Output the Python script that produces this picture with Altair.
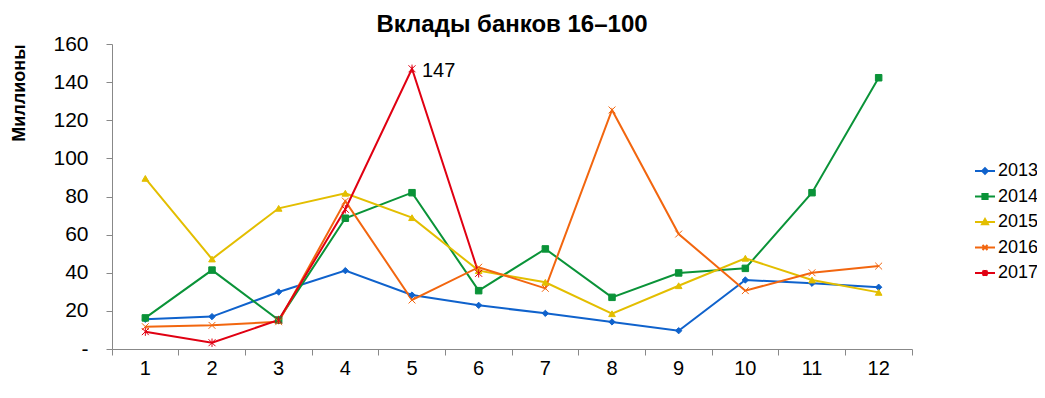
import altair as alt
import pandas as pd

months = list(range(1, 13))
series_names = ["2013", "2014", "2015", "2016", "2017"]
v2013 = [15.6, 17.0, 29.9, 41.1, 28.3, 22.9, 18.7, 14.2, 9.6, 36.2, 34.5, 32.4]
v2014 = [16.3, 41.4, 15.2, 68.6, 82.0, 30.6, 52.5, 27.1, 39.9, 42.3, 82.0, 142.3]
v2015 = [89.5, 47.2, 73.8, 81.7, 68.9, 41.1, 35.0, 18.5, 33.2, 47.6, 36.2, 29.7]
v2016 = [11.7, 12.4, 14.3, 77.6, 25.7, 42.9, 31.8, 125.4, 60.3, 30.6, 40.0, 43.5]
v2017 = [9.1, 3.3, 15.2, 73.3, 147.0, 39.7]
y_ticks = [0, 20, 40, 60, 80, 100, 120, 140, 160]

colors = ["#0F62CC", "#0A9338", "#E3BE00", "#F2660F", "#E00012"]
plot_shapes = [
    "diamond",
    "square",
    "triangle-up",
    "M-1,-1L1,1M-1,1L1,-1",
    "M-1,-1L1,1M-1,1L1,-1M0,-1.2L0,1.2",
]
plot_sizes = [40, 49, 70, 50, 50]
legend_shapes = [
    "M-1,0L1,0M-0.28,0L0,-0.28L0.28,0L0,0.28Z",
    "M-1,0L1,0M-0.26,-0.26L0.26,-0.26L0.26,0.26L-0.26,0.26Z",
    "M-1,0L1,0M0,-0.3L0.3,0.22L-0.3,0.22Z",
    "M-1,0L1,0M-0.25,-0.25L0.25,0.25M-0.25,0.25L0.25,-0.25",
    "M-1,0L1,0M-0.25,-0.25L0.25,0.25M-0.25,0.25L0.25,-0.25M0,-0.3L0,0.3",
]

rows = []
for name, vals in zip(series_names, [v2013, v2014, v2015, v2016, v2017]):
    for m, v in zip(months, vals):
        rows.append({"month": m, "series": name, "value": v})
df = pd.DataFrame(rows)

FONT = "Liberation Sans"

x_enc = alt.X(
    "month:O",
    scale=alt.Scale(type="band", paddingInner=0, paddingOuter=0),
    axis=alt.Axis(
        title=None, labelAngle=0, bandPosition=1, tickExtra=True,
        labelFontSize=20, labelFont=FONT, labelColor="#000",
        labelPadding=3, tickSize=6, domainColor="#888", tickColor="#888",
        grid=False,
    ),
)
y_enc = alt.Y(
    "value:Q",
    scale=alt.Scale(domain=[0, 160], nice=False),
    axis=alt.Axis(
        values=y_ticks, labelExpr="datum.value == 0 ? '-' : datum.label",
        title="Миллионы", titleFont=FONT, titleFontSize=18, titleFontWeight="bold",
        titleAnchor="end", titleX=-84, titleColor="#000",
        labelFontSize=21, labelFont=FONT, labelColor="#000", labelPadding=18,
        tickSize=6, domainColor="#888", tickColor="#888", grid=False,
    ),
)

color_scale = alt.Scale(domain=series_names, range=colors)

lines = alt.Chart(df).mark_line(strokeWidth=2).encode(
    x=x_enc, y=y_enc,
    stroke=alt.Stroke("series:N", scale=color_scale, legend=None),
)

points = alt.Chart(df).mark_point(filled=True, opacity=1, strokeWidth=1).encode(
    x=x_enc, y=y_enc,
    fill=alt.Fill("series:N", scale=color_scale, legend=None),
    stroke=alt.Stroke("series:N", scale=color_scale, legend=None),
    shape=alt.Shape("series:N", scale=alt.Scale(domain=series_names, range=plot_shapes), legend=None),
    size=alt.Size("series:O", scale=alt.Scale(domain=series_names, range=plot_sizes), legend=None),
)

leg = alt.Legend(
    title=None, orient="none", legendX=862, legendY=116,
    symbolSize=400, symbolStrokeWidth=2, labelFontSize=18, labelFont=FONT,
    labelColor="#000", rowPadding=5.5, labelOffset=2,
)
legend_layer = alt.Chart(df).transform_filter("false").mark_point(
    filled=True, opacity=1, size=400, strokeWidth=2
).encode(
    fill=alt.Fill("series:N", scale=color_scale, legend=leg),
    stroke=alt.Stroke("series:N", scale=color_scale, legend=leg),
    shape=alt.Shape("series:N", scale=alt.Scale(domain=series_names, range=legend_shapes), legend=leg),
)

annot = alt.Chart(df).transform_filter(
    "datum.series == '2017' && datum.month == 5"
).mark_text(align="left", baseline="middle", dx=10, dy=2, fontSize=20, font=FONT, color="#000").encode(
    x=x_enc, y=y_enc, text=alt.Text("value:Q", format=".0f"),
)

chart = alt.layer(lines, points, annot, legend_layer).resolve_scale(
    shape="independent", fill="independent", stroke="independent", size="independent"
).properties(
    width=800, height=305,
    autosize=alt.AutoSizeParams(type="none"),
    padding={"left": 104, "top": 36, "right": 125, "bottom": 40},
    title=alt.TitleParams("Вклады банков 16–100", font=FONT, fontSize=24, fontWeight="bold", color="#000", offset=-4),
).configure_view(stroke=None)

chart.save("out.html", embed_options={"renderer": "svg", "actions": False})
